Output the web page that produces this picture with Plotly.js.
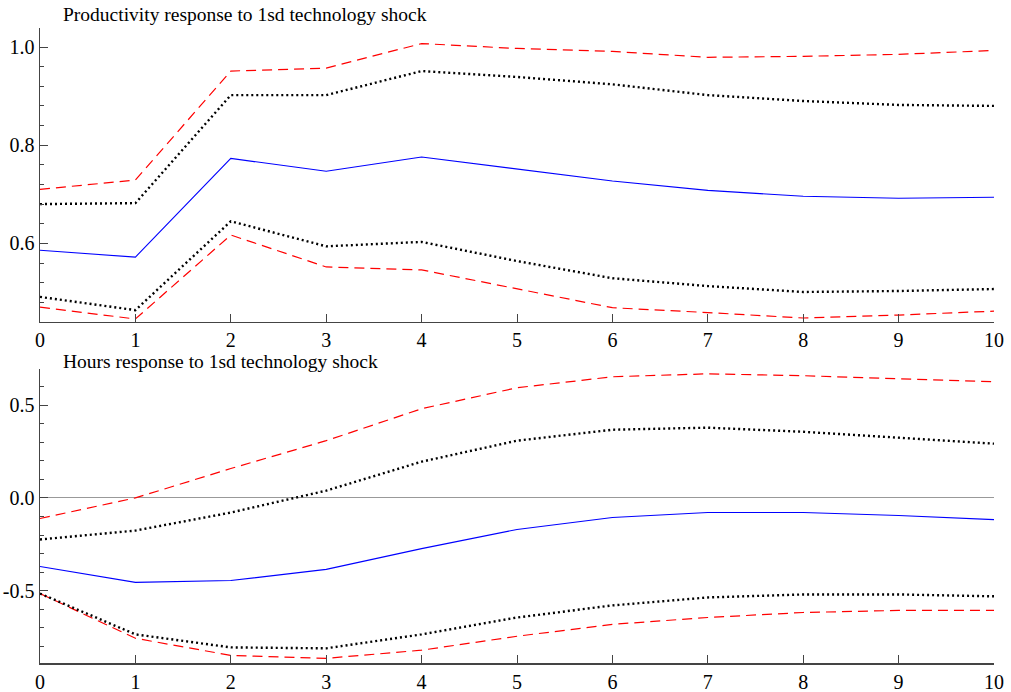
<!DOCTYPE html>
<html>
<head>
<meta charset="utf-8">
<script src="https://cdn.plot.ly/plotly-3.0.1.min.js"></script>
<style>html,body{margin:0;padding:0;background:#fff;}#chart{width:1011px;height:692px;}</style>
</head>
<body>
<div id="chart"></div>
<script>
const horizon = [0,1,2,3,4,5,6,7,8,9,10];

const prodUpper95 = [0.710,0.729,0.951,0.957,1.007,0.997,0.991,0.979,0.981,0.985,0.993];
const prodUpper68 = [0.680,0.682,0.902,0.902,0.951,0.939,0.924,0.902,0.890,0.882,0.880];
const prodMean    = [0.586,0.572,0.773,0.747,0.776,0.751,0.727,0.708,0.696,0.692,0.694];
const prodLower68 = [0.491,0.464,0.645,0.594,0.603,0.564,0.529,0.513,0.501,0.503,0.507];
const prodLower95 = [0.470,0.446,0.617,0.552,0.546,0.507,0.469,0.459,0.448,0.454,0.462];

const hoursUpper95 = [-0.111,0.000,0.158,0.308,0.480,0.593,0.652,0.668,0.658,0.641,0.625];
const hoursUpper68 = [-0.224,-0.176,-0.079,0.039,0.195,0.308,0.367,0.378,0.356,0.324,0.292];
const hoursMean    = [-0.369,-0.455,-0.445,-0.385,-0.273,-0.170,-0.106,-0.079,-0.079,-0.095,-0.117];
const hoursLower68 = [-0.515,-0.735,-0.805,-0.810,-0.735,-0.644,-0.579,-0.536,-0.520,-0.520,-0.530];
const hoursLower95 = [-0.515,-0.756,-0.848,-0.864,-0.820,-0.745,-0.681,-0.644,-0.617,-0.606,-0.606];

const titles = ["Productivity response to 1sd technology shock","Hours response to 1sd technology shock"];
const xTicks = [0,1,2,3,4,5,6,7,8,9,10];
const prodTicks = [0.6,0.8,1.0];
const prodTickText = ["0.6","0.8","1.0"];
const hoursTicks = [-0.5,0.0,0.5];
const hoursTickText = ["-0.5","0.0","0.5"];

const red = {color:'#ff0000', width:1.2, dash:'10px,6px'};
const blk = {color:'#000000', width:2.4, dash:'2px,3px'};
const blu = {color:'#0000ff', width:1.1};

function tr(y, line, xa, ya){ return {x:horizon, y:y, mode:'lines', line:line, xaxis:xa, yaxis:ya, hoverinfo:'skip', showlegend:false}; }

const data = [
  tr(prodUpper95, red, 'x', 'y'),
  tr(prodLower95, red, 'x', 'y'),
  tr(prodUpper68, blk, 'x', 'y'),
  tr(prodLower68, blk, 'x', 'y'),
  tr(prodMean, blu, 'x', 'y'),
  tr(hoursUpper95, red, 'x2', 'y2'),
  tr(hoursLower95, red, 'x2', 'y2'),
  tr(hoursUpper68, blk, 'x2', 'y2'),
  tr(hoursLower68, blk, 'x2', 'y2'),
  tr(hoursMean, blu, 'x2', 'y2')
];

const font = {family:'Liberation Serif, serif', size:20, color:'#000'};
const tfont = {family:'Liberation Serif, serif', size:19.5, color:'#000'};
const axCol = '#444';
const xbase = {range:[0,10], tickvals:xTicks, ticktext:xTicks.map(String), ticks:'inside', ticklen:8, tickcolor:axCol,
  showline:true, linecolor:axCol, linewidth:1.5, showgrid:false, zeroline:false, tickfont:font, fixedrange:true, ticklabelstandoff:0};

const layout = {
  width:1011, height:692,
  margin:{l:40, r:17, t:28, b:29},
  paper_bgcolor:'#fff', plot_bgcolor:'#fff',
  font:font,
  xaxis: Object.assign({}, xbase, {domain:[0,1], anchor:'y'}),
  xaxis2: Object.assign({}, xbase, {domain:[0,1], anchor:'y2'}),
  yaxis: {domain:[0.5375,1], anchor:'x', range:[0.4405,1.0387], tickvals:prodTicks, ticktext:prodTickText,
    ticks:'inside', ticklen:8, tickcolor:axCol, showline:true, linecolor:axCol, linewidth:1.5, showgrid:false, zeroline:false,
    minor:{dtick:0.04, tick0:0, ticks:'inside', ticklen:4, tickcolor:axCol}, tickfont:font, fixedrange:true},
  yaxis2: {domain:[0,0.463], anchor:'x2', range:[-0.889,0.694], tickvals:hoursTicks, ticktext:hoursTickText,
    ticks:'inside', ticklen:8, tickcolor:axCol, showline:true, linecolor:axCol, linewidth:1.5, showgrid:false,
    zeroline:true, zerolinecolor:'#999', zerolinewidth:1,
    minor:{dtick:0.1, tick0:0, ticks:'inside', ticklen:4, tickcolor:axCol}, tickfont:font, fixedrange:true},
  annotations:[
    {text:titles[0], xref:'paper', yref:'paper', x:0.022, y:1.021, xanchor:'left', yanchor:'middle', showarrow:false, font:tfont},
    {text:titles[1], xref:'paper', yref:'paper', x:0.022, y:0.4755, xanchor:'left', yanchor:'middle', showarrow:false, font:tfont}
  ]
};

Plotly.newPlot('chart', data, layout, {staticPlot:true, displayModeBar:false});
</script>
</body>
</html>
